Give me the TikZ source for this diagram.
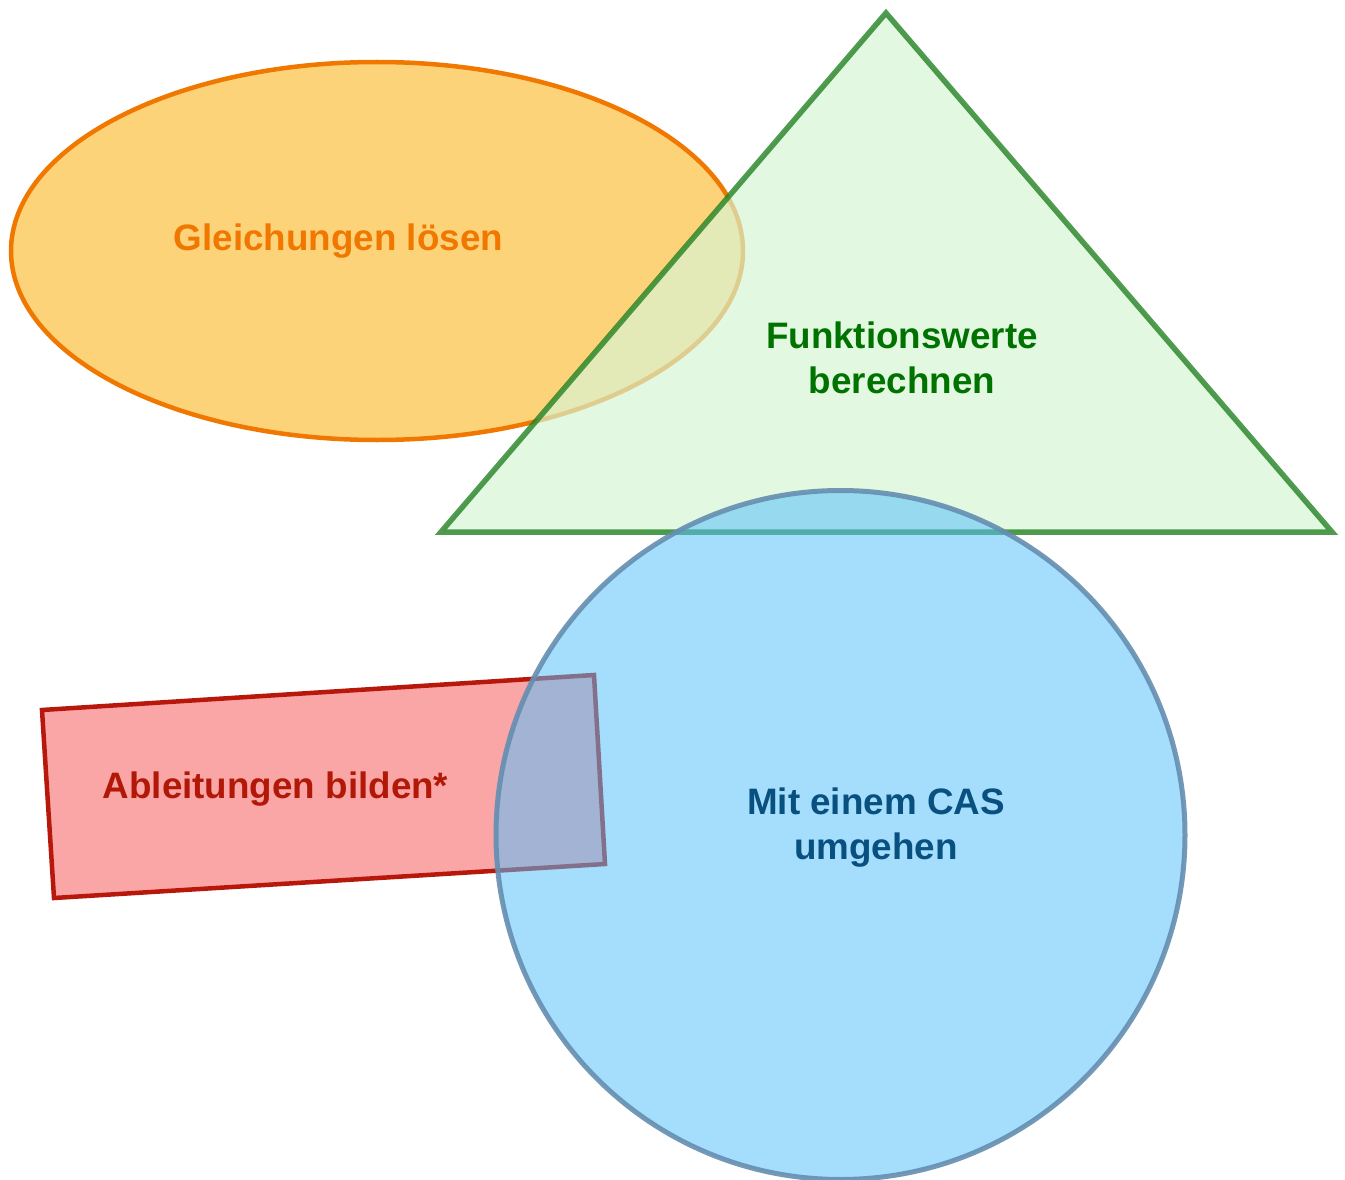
\documentclass[tikz,border=0pt]{standalone}
\usepackage{fontspec}
\setmainfont{Liberation Sans}
\begin{document}
\begin{tikzpicture}[x=1pt,y=-1pt,
  lbl/.style={align=center,inner sep=0pt,font=\fontsize{36.8}{45}\selectfont\bfseries}]
\definecolor{ellfill}{RGB}{253,211,122}
\definecolor{elldraw}{RGB}{240,120,0}
\definecolor{trifill}{RGB}{215,246,212}
\definecolor{tridraw}{RGB}{36,130,36}
\definecolor{rectfill}{RGB}{250,166,166}
\definecolor{rectdraw}{RGB}{184,24,12}
\definecolor{circfill}{RGB}{85,191,251}
\definecolor{circdraw}{RGB}{100,142,176}
\definecolor{txtorange}{RGB}{240,120,0}
\definecolor{txtgreen}{RGB}{0,114,0}
\definecolor{txtblue}{RGB}{8,80,128}
\definecolor{txtred}{RGB}{178,24,8}
\useasboundingbox[fill=white] (0,0) rectangle (1345,1180);
% ellipse
\draw[fill=ellfill,draw=elldraw,line width=4.5pt] (377,251) ellipse [x radius=366,y radius=189];
% triangle
\draw[fill=trifill,fill opacity=0.68,draw=tridraw,draw opacity=0.8,line width=5.5pt,line join=miter]
  (886,13) -- (1332,532) -- (441,532) -- cycle;
% rectangle
\draw[fill=rectfill,draw=rectdraw,line width=4.5pt,line join=miter]
  (42,710) -- (594,675) -- (605,864) -- (54,898) -- cycle;
% circle
\draw[fill=circfill,fill opacity=0.53,draw=circdraw,draw opacity=0.9,line width=5pt]
  (840.5,835) circle [radius=344.5];
% labels
\node[lbl,text=txtorange] (gl) at (338.5,241) {Gleichungen lösen};
\node[lbl,text=txtgreen] (fw) at (902,358) {Funktionswerte\\berechnen};
\node[lbl,text=txtred] (ab) at (275.5,789) {Ableitungen bilden*};
\node[lbl,text=txtblue] (cas) at (876,828) {Mit einem CAS\\umgehen};
\end{tikzpicture}
\end{document}
